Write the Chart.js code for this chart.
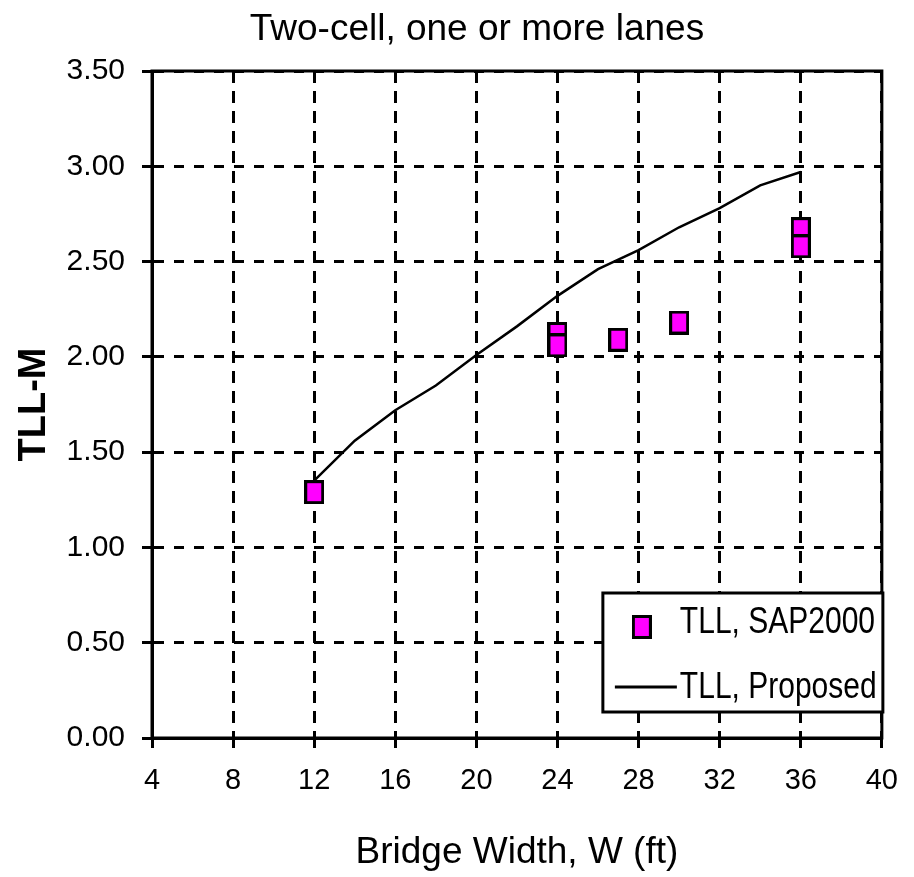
<!DOCTYPE html>
<html>
<head>
<meta charset="utf-8">
<title>Two-cell, one or more lanes</title>
<script src="https://cdn.jsdelivr.net/npm/chart.js@4.4.1/dist/chart.umd.min.js"></script>
<style>
  html, body { margin: 0; padding: 0; background: #ffffff; }
  #box { position: relative; width: 914px; height: 877px; }
</style>
</head>
<body>
<div id="box"><canvas id="chart"></canvas></div>
<script>
// Text
const chartTitle = 'Two-cell, one or more lanes';
const xAxisTitle = 'Bridge Width, W (ft)';
const yAxisTitle = 'TLL-M';
const seriesLabels = ['TLL, SAP2000', 'TLL, Proposed'];

// Tick values
const xTickValues = [4, 8, 12, 16, 20, 24, 28, 32, 36, 40];
const yTickValues = [0, 0.5, 1, 1.5, 2, 2.5, 3, 3.5];

// Finite-element results (bridge width in ft, TLL-M)
const sapWidth = [12, 24, 24, 27, 30, 36, 36];
const sapTll = [1.29, 2.12, 2.06, 2.09, 2.18, 2.67, 2.58];

// Proposed expression
const proposedWidth = [12, 14, 16, 18, 20, 22, 24, 26, 28, 30, 32, 34, 36];
const proposedTll = [1.35, 1.56, 1.72, 1.85, 2.01, 2.16, 2.32, 2.46, 2.56, 2.68, 2.78, 2.90, 2.97];

const SANS = '"Liberation Sans", Arial, sans-serif';

// Magenta marker with a heavy black edge
function boxMarker(w, h, edge) {
  const c = document.createElement('canvas');
  c.width = w; c.height = h;
  const g = c.getContext('2d');
  g.fillStyle = '#000000';
  g.fillRect(0, 0, w, h);
  g.fillStyle = '#ff00ff';
  g.fillRect(edge, edge, w - 2 * edge, h - 2 * edge);
  return c;
}
const sapMarker = boxMarker(20, 24, 3);

const toPoints = (xs, ys) => xs.map((x, i) => ({ x: x, y: ys[i] }));

// Solid frame round the plotting area
const plotFrame = {
  id: 'plotFrame',
  beforeDatasetsDraw(chart) {
    const { ctx, chartArea: a } = chart;
    ctx.save();
    ctx.setLineDash([]);
    ctx.strokeStyle = '#000000';
    ctx.lineWidth = 3;
    ctx.strokeRect(a.left, a.top, a.right - a.left, a.bottom - a.top);
    ctx.restore();
  }
};

// Title above the plot
const topTitle = {
  id: 'topTitle',
  afterDraw(chart) {
    const { ctx, chartArea: a } = chart;
    ctx.save();
    ctx.font = '37px ' + SANS;
    ctx.fillStyle = '#000000';
    ctx.textAlign = 'center';
    ctx.textBaseline = 'alphabetic';
    ctx.fillText(chartTitle, (a.left + a.right) / 2 - 40, a.top - 31);
    ctx.restore();
  }
};

// Tall, narrow legend lettering
function tallText(ctx, text, x, baseline, size, stretch) {
  ctx.save();
  ctx.translate(x, baseline);
  ctx.scale(1, stretch);
  ctx.font = size + 'px ' + SANS;
  ctx.textAlign = 'left';
  ctx.textBaseline = 'alphabetic';
  ctx.fillText(text, 0, 0);
  ctx.restore();
}

// Boxed legend in the lower right corner of the plot
const boxLegend = {
  id: 'boxLegend',
  afterDatasetsDraw(chart) {
    const { ctx, chartArea: a } = chart;
    const ds = chart.data.datasets;
    const w = 280, h = 119;
    const x0 = a.right + 1 - w, y0 = a.bottom - 145;
    ctx.save();
    ctx.setLineDash([]);
    ctx.fillStyle = '#ffffff';
    ctx.fillRect(x0, y0, w, h);
    ctx.strokeStyle = '#000000';
    ctx.lineWidth = 3;
    ctx.strokeRect(x0, y0, w, h);

    // marker entry
    Chart.helpers.drawPoint(ctx, { pointStyle: ds[0].pointStyle, radius: 10, rotation: 0 }, x0 + 39, y0 + 34);
    // line entry
    ctx.beginPath();
    ctx.moveTo(x0 + 12, y0 + 94);
    ctx.lineTo(x0 + 74, y0 + 94);
    ctx.lineWidth = 3;
    ctx.strokeStyle = ds[1].borderColor;
    ctx.stroke();

    ctx.fillStyle = '#000000';
    tallText(ctx, ds[0].label, x0 + 77, y0 + 40, 30, 1.25);
    tallText(ctx, ds[1].label, x0 + 77, y0 + 105, 30, 1.25);
    ctx.restore();
  }
};

new Chart(document.getElementById('chart'), {
  type: 'scatter',
  data: {
    datasets: [
      {
        label: seriesLabels[0],
        data: toPoints(sapWidth, sapTll),
        pointStyle: sapMarker,
        pointRadius: 10,
        pointHoverRadius: 10,
        showLine: false
      },
      {
        label: seriesLabels[1],
        data: toPoints(proposedWidth, proposedTll),
        showLine: true,
        borderColor: '#000000',
        borderWidth: 2.5,
        pointRadius: 0,
        pointHoverRadius: 0,
        tension: 0,
        fill: false
      }
    ]
  },
  options: {
    responsive: true,
    maintainAspectRatio: false,
    animation: false,
    events: [],
    layout: { padding: { left: 0, right: 30, top: 71, bottom: 0 } },
    plugins: {
      legend: { display: false },
      title: { display: false },
      tooltip: { enabled: false }
    },
    scales: {
      x: {
        type: 'linear',
        min: xTickValues[0],
        max: xTickValues[xTickValues.length - 1],
        afterBuildTicks: s => { s.ticks = xTickValues.map(v => ({ value: v })); },
        afterFit: s => { s.height = 139; },
        ticks: {
          color: '#000000',
          font: { family: SANS, size: 29 },
          padding: 16,
          maxRotation: 0,
          callback: v => String(v)
        },
        grid: {
          color: '#000000',
          lineWidth: 3,
          drawTicks: true,
          tickLength: 10,
          tickColor: '#000000',
          tickWidth: 3,
          tickBorderDash: []
        },
        border: { display: true, color: '#000000', width: 3, dash: [12, 8] },
        title: {
          display: true,
          text: xAxisTitle,
          color: '#000000',
          font: { family: SANS, size: 37 },
          padding: { top: 0, bottom: 2 }
        }
      },
      y: {
        type: 'linear',
        min: yTickValues[0],
        max: yTickValues[yTickValues.length - 1],
        afterBuildTicks: s => { s.ticks = yTickValues.map(v => ({ value: v })); },
        afterFit: s => { s.width = 152; },
        ticks: {
          color: '#000000',
          font: { family: SANS, size: 30 },
          padding: 17,
          callback: v => Number(v).toFixed(2)
        },
        grid: {
          color: '#000000',
          lineWidth: 3,
          drawTicks: true,
          tickLength: 10,
          tickColor: '#000000',
          tickWidth: 3,
          tickBorderDash: []
        },
        border: { display: true, color: '#000000', width: 3, dash: [10, 10] },
        title: {
          display: true,
          text: yAxisTitle,
          color: '#000000',
          font: { family: SANS, size: 38, weight: 'bold' },
          padding: { top: 12, bottom: 0 }
        }
      }
    }
  },
  plugins: [plotFrame, boxLegend, topTitle]
});
</script>
</body>
</html>
